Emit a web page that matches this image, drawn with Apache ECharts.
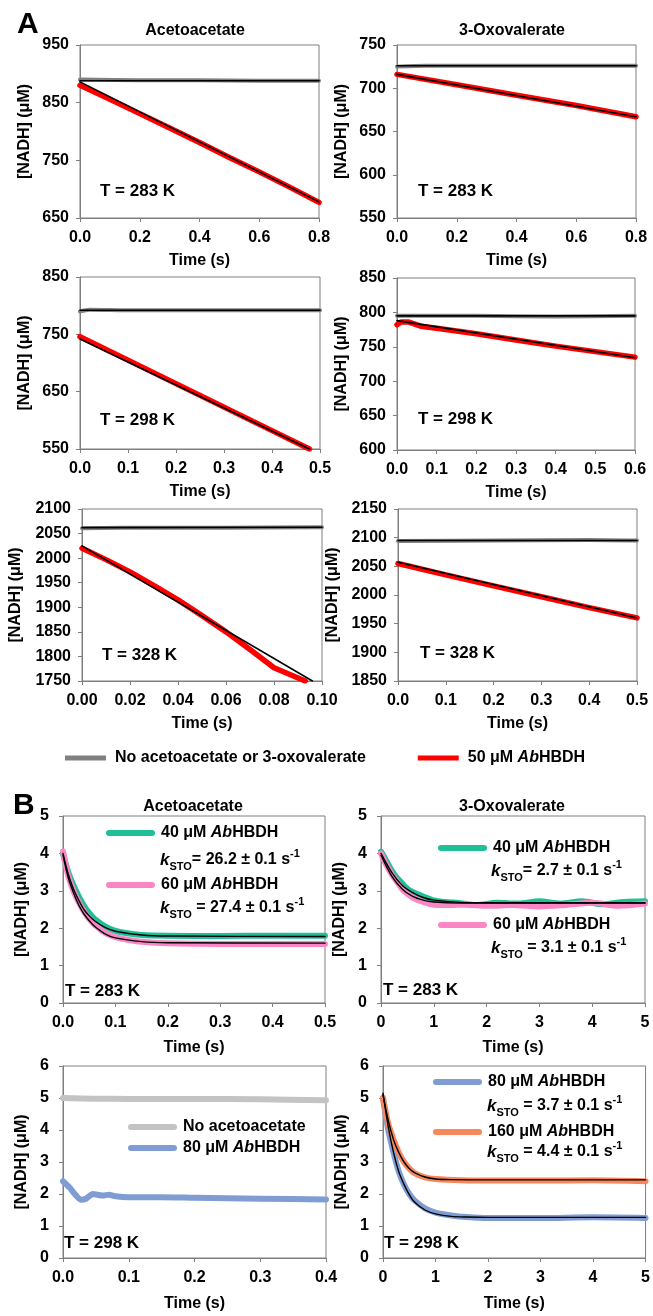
<!DOCTYPE html>
<html>
<head>
<meta charset="utf-8">
<script src="https://cdn.jsdelivr.net/npm/echarts@6/dist/echarts.min.js"></script>
<style>
  html, body { margin: 0; padding: 0; background: #fff; }
  #chart { width: 653px; height: 1316px; }
</style>
</head>
<body>
<div id="chart"></div>
<script>
// ---- panel A : [NADH] traces, control (gray) and 50 uM AbHBDH (red) ----
// acetoacetate 283 K
const a1Control = [[0, 890], [0.2, 889], [0.4, 889], [0.6, 888], [0.8, 888]];
const a1ControlFit = [[0, 888], [0.8, 888]];
const a1Enzyme = [[0, 880], [0.1, 856], [0.2, 831], [0.3, 806], [0.4, 781], [0.5, 755], [0.6, 730], [0.7, 704], [0.8, 677]];
const a1EnzymeFit = [[0, 886], [0.8, 678]];
// 3-oxovalerate 283 K
const a2Control = [[0, 725], [0.1, 726], [0.4, 726], [0.8, 726]];
const a2ControlFit = [[0, 726], [0.8, 726]];
const a2Enzyme = [[0, 716], [0.2, 704], [0.4, 692], [0.6, 680], [0.8, 667]];
const a2EnzymeFit = [[0, 716], [0.8, 667]];
// acetoacetate 298 K
const a3Control = [[0, 790], [0.02, 793], [0.1, 792], [0.3, 792], [0.5, 792]];
const a3ControlFit = [[0, 792], [0.5, 792]];
const a3Enzyme = [[0, 746], [0.1, 705], [0.2, 664], [0.3, 623], [0.4, 582], [0.478, 550]];
const a3EnzymeFit = [[0, 742], [0.478, 550]];
// 3-oxovalerate 298 K
const a4Control = [[0, 795], [0.2, 795], [0.4, 794], [0.6, 795]];
const a4ControlFit = [[0, 795], [0.6, 795]];
const a4Enzyme = [[0, 782], [0.01, 786], [0.03, 786], [0.06, 780], [0.1, 777], [0.2, 769], [0.3, 760], [0.4, 751], [0.5, 743], [0.6, 735]];
const a4EnzymeFit = [[0, 788], [0.6, 734]];
// acetoacetate 328 K
const a5Control = [[0, 2061], [0.03, 2062], [0.06, 2062], [0.1, 2063]];
const a5ControlFit = [[0, 2062], [0.1, 2063]];
const a5Enzyme = [[0, 2020], [0.01, 1997], [0.02, 1972], [0.03, 1944], [0.04, 1915], [0.05, 1883], [0.06, 1850], [0.07, 1814], [0.08, 1777], [0.093, 1750]];
const a5EnzymeFit = [[0, 2025], [0.096, 1750]];
// 3-oxovalerate 328 K
const a6Control = [[0, 2094], [0.2, 2095], [0.4, 2096], [0.5, 2095]];
const a6ControlFit = [[0, 2095], [0.5, 2095]];
const a6Enzyme = [[0, 2055], [0.1, 2035], [0.2, 2016], [0.3, 1997], [0.4, 1978], [0.5, 1960]];
const a6EnzymeFit = [[0, 2057], [0.5, 1960]];

// ---- panel B : single turnover traces ----
// acetoacetate 283 K
const b1Enz40 = [[0, 4.0], [0.01, 3.5], [0.02, 3.15], [0.03, 2.85], [0.04, 2.6], [0.05, 2.4], [0.06, 2.25], [0.08, 2.05], [0.1, 1.93], [0.12, 1.87], [0.15, 1.82], [0.2, 1.8], [0.3, 1.79], [0.4, 1.8], [0.5, 1.8]];
const b1Enz40Fit = [[0, 4.0], [0.01, 3.45], [0.02, 3.05], [0.03, 2.75], [0.04, 2.5], [0.05, 2.33], [0.06, 2.2], [0.08, 2.02], [0.1, 1.92], [0.15, 1.82], [0.2, 1.79], [0.5, 1.78]];
const b1Enz60 = [[0, 4.05], [0.01, 3.4], [0.02, 3.0], [0.03, 2.7], [0.04, 2.45], [0.05, 2.25], [0.06, 2.1], [0.08, 1.88], [0.1, 1.76], [0.12, 1.7], [0.15, 1.64], [0.2, 1.6], [0.3, 1.58], [0.4, 1.58], [0.5, 1.58]];
const b1Enz60Fit = [[0, 3.95], [0.01, 3.35], [0.02, 2.95], [0.03, 2.62], [0.04, 2.38], [0.05, 2.2], [0.06, 2.05], [0.08, 1.85], [0.1, 1.74], [0.15, 1.64], [0.2, 1.61], [0.5, 1.6]];
// 3-oxovalerate 283 K
const b2Enz40 = [[0, 4.05], [0.1, 3.8], [0.2, 3.55], [0.3, 3.35], [0.4, 3.2], [0.5, 3.05], [0.6, 2.97], [0.8, 2.85], [1, 2.74], [1.2, 2.7], [1.5, 2.67], [1.8, 2.62], [2.2, 2.68], [2.6, 2.66], [3, 2.72], [3.4, 2.66], [3.8, 2.72], [4.2, 2.64], [4.6, 2.7], [5, 2.72]];
const b2Enz40Fit = [[0, 4.0], [0.2, 3.5], [0.4, 3.15], [0.6, 2.95], [0.8, 2.82], [1, 2.75], [1.5, 2.69], [2, 2.68], [5, 2.68]];
const b2Enz60 = [[0, 4.0], [0.1, 3.7], [0.2, 3.45], [0.3, 3.25], [0.4, 3.05], [0.5, 2.92], [0.6, 2.82], [0.8, 2.7], [1, 2.63], [1.3, 2.62], [1.6, 2.63], [2, 2.6], [2.5, 2.62], [3, 2.58], [3.5, 2.62], [4, 2.68], [4.5, 2.6], [5, 2.66]];
const b2Enz60Fit = [[0, 3.95], [0.2, 3.4], [0.4, 3.05], [0.6, 2.85], [0.8, 2.75], [1, 2.7], [1.5, 2.67], [5, 2.67]];
// acetoacetate 298 K
const b3Control = [[0, 5.0], [0.05, 4.98], [0.1, 4.97], [0.2, 4.97], [0.3, 4.96], [0.4, 4.93]];
const b3Enz80 = [[0, 2.4], [0.01, 2.2], [0.02, 1.95], [0.027, 1.82], [0.035, 1.85], [0.045, 2.0], [0.06, 1.95], [0.07, 1.98], [0.08, 1.93], [0.1, 1.9], [0.15, 1.9], [0.2, 1.88], [0.3, 1.85], [0.4, 1.83]];
// 3-oxovalerate 298 K
const b4Enz80 = [[0, 5.0], [0.1, 4.0], [0.2, 3.3], [0.3, 2.7], [0.4, 2.3], [0.5, 2.0], [0.6, 1.8], [0.8, 1.55], [1, 1.42], [1.3, 1.33], [1.6, 1.28], [2, 1.25], [3, 1.25], [4, 1.27], [5, 1.25]];
const b4Enz80Fit = [[0, 5.15], [0.1, 4.1], [0.2, 3.3], [0.3, 2.7], [0.4, 2.3], [0.5, 1.98], [0.6, 1.75], [0.8, 1.5], [1, 1.38], [1.3, 1.3], [1.6, 1.28], [2, 1.27], [5, 1.27]];
const b4Enz160 = [[0, 5.0], [0.1, 4.2], [0.2, 3.7], [0.3, 3.3], [0.4, 3.0], [0.5, 2.8], [0.6, 2.65], [0.8, 2.52], [1, 2.47], [1.5, 2.43], [2, 2.42], [3, 2.42], [4, 2.43], [5, 2.4]];
const b4Enz160Fit = [[0, 5.1], [0.1, 4.3], [0.2, 3.7], [0.3, 3.3], [0.4, 3.0], [0.5, 2.8], [0.6, 2.67], [0.8, 2.53], [1, 2.47], [1.3, 2.45], [2, 2.44], [5, 2.44]];

const fontFamily = '"Liberation Sans", Arial, sans-serif';
const yName = '[NADH] (\u03bcM)';

// layout of the ten plots: box, axis ranges, label decimals
const panels = [
  { left: 80, top: 45, width: 239, height: 173, xMax: 0.8, xInt: 0.2, xDec: 1, yMin: 650, yMax: 950, yInt: 100, yGap: 47, xGap: 35 },
  { left: 397, top: 45, width: 239, height: 173, xMax: 0.8, xInt: 0.2, xDec: 1, yMin: 550, yMax: 750, yInt: 50, yGap: 47, xGap: 35 },
  { left: 80, top: 277, width: 240, height: 172, xMax: 0.5, xInt: 0.1, xDec: 1, yMin: 550, yMax: 850, yInt: 100, yGap: 47, xGap: 35 },
  { left: 397, top: 278, width: 238, height: 172, xMax: 0.6, xInt: 0.1, xDec: 1, yMin: 600, yMax: 850, yInt: 50, yGap: 47, xGap: 35 },
  { left: 82, top: 509, width: 240, height: 172, xMax: 0.1, xInt: 0.02, xDec: 2, yMin: 1750, yMax: 2100, yInt: 50, yGap: 58, xGap: 35 },
  { left: 398, top: 509, width: 239, height: 172, xMax: 0.5, xInt: 0.1, xDec: 1, yMin: 1850, yMax: 2150, yInt: 50, yGap: 57, xGap: 35 },
  { left: 63, top: 816, width: 262, height: 187, xMax: 0.5, xInt: 0.1, xDec: 1, yMin: 0, yMax: 5, yInt: 1, yGap: 33, xGap: 37 },
  { left: 381, top: 816, width: 264, height: 187, xMax: 5, xInt: 1, xDec: 0, yMin: 0, yMax: 5, yInt: 1, yGap: 33, xGap: 37 },
  { left: 63, top: 1066, width: 263, height: 192, xMax: 0.4, xInt: 0.1, xDec: 1, yMin: 0, yMax: 6, yInt: 1, yGap: 33, xGap: 38 },
  { left: 383, top: 1066, width: 263, height: 192, xMax: 5, xInt: 1, xDec: 0, yMin: 0, yMax: 6, yInt: 1, yGap: 33, xGap: 38 }
];

const axisColor = '#7f7f7f';
const labelStyle = { color: '#000', fontFamily: fontFamily, fontWeight: 'bold', fontSize: 16 };

const grids = panels.map(p => ({
  left: p.left, top: p.top, width: p.width, height: p.height,
  show: true, borderColor: axisColor, borderWidth: 1, containLabel: false
}));
const xAxes = panels.map((p, i) => ({
  type: 'value', gridIndex: i, min: 0, max: p.xMax, interval: p.xInt,
  name: 'Time (s)', nameLocation: 'middle', nameGap: p.xGap,
  nameTextStyle: labelStyle,
  axisLine: { show: true, lineStyle: { color: axisColor } },
  axisTick: { show: true, inside: false, length: 4, lineStyle: { color: axisColor } },
  axisLabel: Object.assign({ margin: 12, formatter: v => v.toFixed(p.xDec) }, labelStyle),
  splitLine: { show: false }
}));
const yAxes = panels.map((p, i) => ({
  type: 'value', gridIndex: i, min: p.yMin, max: p.yMax, interval: p.yInt,
  name: yName, nameLocation: 'middle', nameGap: p.yGap, nameRotate: 90,
  nameTextStyle: labelStyle,
  axisLine: { show: true, lineStyle: { color: axisColor } },
  axisTick: { show: true, inside: false, length: 4, lineStyle: { color: axisColor } },
  axisLabel: Object.assign({ margin: i >= 6 ? 14 : 11, formatter: v => String(v) }, labelStyle),
  splitLine: { show: false }
}));

function trace(i, name, data, color, width, smooth) {
  return {
    type: 'line', name: name, xAxisIndex: i, yAxisIndex: i, data: data,
    showSymbol: false, symbol: 'none', smooth: smooth || false, silent: true,
    lineStyle: { color: color, width: width, cap: 'round', join: 'round' },
    itemStyle: { color: color }, clip: true, animation: false
  };
}

const ctrlName = 'No acetoacetate or 3-oxovalerate';
const enzName = '50 \u03bcM AbHBDH';
const gray = '#808080', red = '#ff0000', black = '#000000';
const green = '#1fbf98', pink = '#fb86c6', lightGray = '#c3c3c3', blue = '#7f9dd3', orange = '#f8875c';

const aSets = [
  [a1Control, a1ControlFit, a1Enzyme, a1EnzymeFit],
  [a2Control, a2ControlFit, a2Enzyme, a2EnzymeFit],
  [a3Control, a3ControlFit, a3Enzyme, a3EnzymeFit],
  [a4Control, a4ControlFit, a4Enzyme, a4EnzymeFit],
  [a5Control, a5ControlFit, a5Enzyme, a5EnzymeFit],
  [a6Control, a6ControlFit, a6Enzyme, a6EnzymeFit]
];
const series = [];
aSets.forEach((s, i) => {
  series.push(trace(i, ctrlName, s[0], gray, 4, 0.3));
  series.push(trace(i, enzName, s[2], red, 5.5));
  series.push(trace(i, 'fit', s[1], black, 1.6));
  series.push(trace(i, 'fit', s[3], black, 1.6));
});
series.push(trace(6, 'b1-40', b1Enz40, green, 6, 0.3));
series.push(trace(6, 'b1-60', b1Enz60, pink, 6, 0.3));
series.push(trace(6, 'fit', b1Enz40Fit, black, 1.4, 0.3));
series.push(trace(6, 'fit', b1Enz60Fit, black, 1.4, 0.3));
series.push(trace(7, 'b2-40', b2Enz40, green, 6, 0.3));
series.push(trace(7, 'b2-60', b2Enz60, pink, 6, 0.3));
series.push(trace(7, 'fit', b2Enz40Fit, black, 1.4, 0.3));
series.push(trace(7, 'fit', b2Enz60Fit, black, 1.4, 0.3));
series.push(trace(8, 'b3-ctrl', b3Control, lightGray, 6, 0.3));
series.push(trace(8, 'b3-80', b3Enz80, blue, 6, 0.2));
series.push(trace(9, 'b4-80', b4Enz80, blue, 6, 0.3));
series.push(trace(9, 'b4-160', b4Enz160, orange, 6, 0.3));
series.push(trace(9, 'fit', b4Enz80Fit, black, 1.4, 0.3));
series.push(trace(9, 'fit', b4Enz160Fit, black, 1.4, 0.3));

// text helpers for in-plot labels
const rich = {
  n: { fontFamily: fontFamily, fontWeight: 'bold', fontSize: 16, fill: '#000', lineHeight: 24, verticalAlign: 'middle' },
  i: { fontFamily: fontFamily, fontWeight: 'bold', fontStyle: 'italic', fontSize: 16, fill: '#000', lineHeight: 24, verticalAlign: 'middle' },
  k: { fontFamily: fontFamily, fontWeight: 'bold', fontStyle: 'italic', fontSize: 17, fill: '#000', lineHeight: 24, verticalAlign: 'middle' },
  sub: { fontFamily: fontFamily, fontWeight: 'bold', fontSize: 11, fill: '#000', lineHeight: 24, verticalAlign: 'bottom' },
  sup: { fontFamily: fontFamily, fontWeight: 'bold', fontSize: 11, fill: '#000', lineHeight: 24, verticalAlign: 'top' }
};
function txt(x, y, text, size, align) {
  return {
    type: 'text', silent: true,
    style: { x: x, y: y, text: text, fill: '#000', fontFamily: fontFamily, fontWeight: 'bold',
      fontSize: size || 16, align: align || 'left', verticalAlign: 'middle' }
  };
}
function richTxt(x, y, text) {
  return { type: 'text', silent: true, style: { x: x, y: y, text: text, rich: rich, verticalAlign: 'middle', align: 'left' } };
}
function key(x, y, color, text) {
  return [
    { type: 'line', silent: true, shape: { x1: x, y1: y, x2: x + 43, y2: y }, style: { stroke: color, lineWidth: 6, lineCap: 'round' } },
    richTxt(x + 52, y, text)
  ];
}
const abhbdh = c => '{n|' + c + ' \u03bcM }{i|Ab}{n|HBDH}';
const kSto = (eq) => '{k|k}{sub|STO}{n|' + eq + ' s}{sup|-1}';

const graphic = [
  txt(17, 25, 'A', 30),
  txt(13, 806, 'B', 30),
  txt(195, 31, 'Acetoacetate', 16, 'center'),
  txt(512, 31, '3-Oxovalerate', 16, 'center'),
  txt(193, 807, 'Acetoacetate', 16, 'center'),
  txt(512, 807, '3-Oxovalerate', 16, 'center'),
  txt(100, 191, 'T = 283 K', 17),
  txt(418, 191, 'T = 283 K', 17),
  txt(100, 420, 'T = 298 K', 17),
  txt(418, 419, 'T = 298 K', 17),
  txt(102, 655, 'T = 328 K', 17),
  txt(420, 653, 'T = 328 K', 17),
  txt(65, 991, 'T = 283 K', 17),
  txt(383, 990, 'T = 283 K', 17),
  txt(64, 1243, 'T = 298 K', 17),
  txt(384, 1243, 'T = 298 K', 17),
  ...key(109, 833, green, abhbdh(40)),
  richTxt(160, 860, kSto('= 26.2 \u00b1 0.1')),
  ...key(109, 885, pink, abhbdh(60)),
  richTxt(160, 908, kSto(' = 27.4 \u00b1 0.1')),
  ...key(441, 848, green, abhbdh(40)),
  richTxt(491, 871, kSto('= 2.7 \u00b1 0.1')),
  ...key(441, 925, pink, abhbdh(60)),
  richTxt(491, 948, kSto(' = 3.1 \u00b1 0.1')),
  ...key(131, 1127, lightGray, '{n|No acetoacetate}'),
  ...key(131, 1148, blue, abhbdh(80)),
  ...key(436, 1082, blue, abhbdh(80)),
  richTxt(487, 1106, kSto(' = 3.7 \u00b1 0.1')),
  ...key(436, 1132, orange, abhbdh(160)),
  richTxt(487, 1152, kSto(' = 4.4 \u00b1 0.1'))
];

const chart = echarts.init(document.getElementById('chart'));
chart.setOption({
  animation: false,
  backgroundColor: '#fff',
  grid: grids,
  xAxis: xAxes,
  yAxis: yAxes,
  legend: {
    left: 60, top: 745, itemWidth: 41, itemHeight: 5, itemGap: 52, icon: 'rect',
    selectedMode: false,
    data: [
      { name: ctrlName, itemStyle: { color: gray } },
      { name: enzName, itemStyle: { color: red } }
    ],
    formatter: name => name.replace('Ab', '{i|Ab}'),
    textStyle: {
      color: '#000', fontFamily: fontFamily, fontWeight: 'bold', fontSize: 16, padding: [0, 0, 0, 4],
      rich: { i: { fontFamily: fontFamily, fontWeight: 'bold', fontStyle: 'italic', fontSize: 16, color: '#000' } }
    }
  },
  graphic: graphic,
  series: series
});
</script>
</body>
</html>
